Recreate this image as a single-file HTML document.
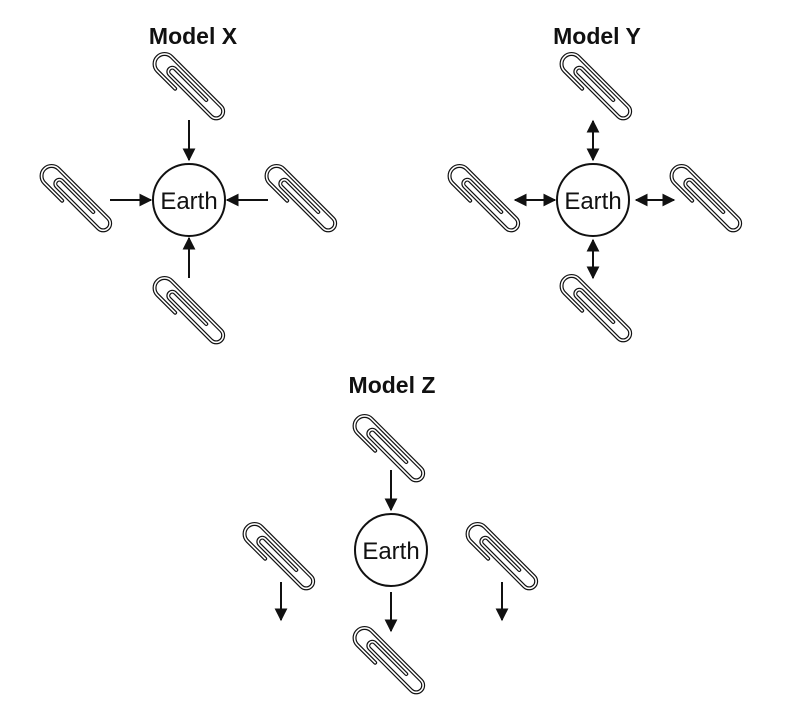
<!DOCTYPE html>
<html><head><style>body{margin:0;background:#fff}svg{display:block}</style></head><body>
<svg width="798" height="708" viewBox="0 0 798 708" xmlns="http://www.w3.org/2000/svg">
<defs>
<marker id="a" viewBox="0 0 10 10" refX="9" refY="5" markerWidth="13" markerHeight="13" markerUnits="userSpaceOnUse" orient="auto-start-reverse"><path d="M0,0 L10,5 L0,10 z" fill="#111"/></marker>
<g id="clip">
<path d="M -10 11 L -35 11 A 10 10 0 0 1 -35 -9 L 35 -9 A 7 7 0 0 1 35 5 L -24 5 A 4 4 0 0 1 -24 -3 L 20 -3" fill="none" stroke="#111" stroke-width="4" stroke-linecap="round"/>
<path d="M -10 11 L -35 11 A 10 10 0 0 1 -35 -9 L 35 -9 A 7 7 0 0 1 35 5 L -24 5 A 4 4 0 0 1 -24 -3 L 20 -3" fill="none" stroke="#fff" stroke-width="1.6" stroke-linecap="round"/>
</g>
</defs>
<g font-family="Liberation Sans, sans-serif" font-weight="bold" font-size="23" text-anchor="middle" fill="#111">
<text x="193" y="44">Model X</text><text x="597" y="44">Model Y</text><text x="392" y="393">Model Z</text>
</g>
<g fill="none" stroke="#111" stroke-width="2">
<circle cx="189" cy="200" r="36"/><circle cx="593" cy="200" r="36"/><circle cx="391" cy="550" r="36"/>
</g>
<g font-family="Liberation Sans, sans-serif" font-size="24" text-anchor="middle" fill="#111">
<text x="189" y="209">Earth</text><text x="593" y="209">Earth</text><text x="391" y="559">Earth</text>
</g>
<g>
<use href="#clip" transform="translate(190,88) rotate(45)"/>
<use href="#clip" transform="translate(77,200) rotate(45)"/>
<use href="#clip" transform="translate(302,200) rotate(45)"/>
<use href="#clip" transform="translate(190,312) rotate(45)"/>
<use href="#clip" transform="translate(597,88) rotate(45)"/>
<use href="#clip" transform="translate(485,200) rotate(45)"/>
<use href="#clip" transform="translate(707,200) rotate(45)"/>
<use href="#clip" transform="translate(597,310) rotate(45)"/>
<use href="#clip" transform="translate(390,450) rotate(45)"/>
<use href="#clip" transform="translate(280,558) rotate(45)"/>
<use href="#clip" transform="translate(503,558) rotate(45)"/>
<use href="#clip" transform="translate(390,662) rotate(45)"/>
</g>
<g stroke="#111" stroke-width="2" fill="none">
<line x1="189" y1="120" x2="189" y2="160" marker-end="url(#a)"/>
<line x1="110" y1="200" x2="151" y2="200" marker-end="url(#a)"/>
<line x1="268" y1="200" x2="227" y2="200" marker-end="url(#a)"/>
<line x1="189" y1="278" x2="189" y2="238" marker-end="url(#a)"/>
<line x1="593" y1="121" x2="593" y2="160" marker-start="url(#a)" marker-end="url(#a)"/>
<line x1="593" y1="240" x2="593" y2="278" marker-start="url(#a)" marker-end="url(#a)"/>
<line x1="515" y1="200" x2="555" y2="200" marker-start="url(#a)" marker-end="url(#a)"/>
<line x1="636" y1="200" x2="674" y2="200" marker-start="url(#a)" marker-end="url(#a)"/>
<line x1="391" y1="470" x2="391" y2="510" marker-end="url(#a)"/>
<line x1="391" y1="592" x2="391" y2="631" marker-end="url(#a)"/>
<line x1="281" y1="582" x2="281" y2="620" marker-end="url(#a)"/>
<line x1="502" y1="582" x2="502" y2="620" marker-end="url(#a)"/>
</g>
</svg>
</body></html>
